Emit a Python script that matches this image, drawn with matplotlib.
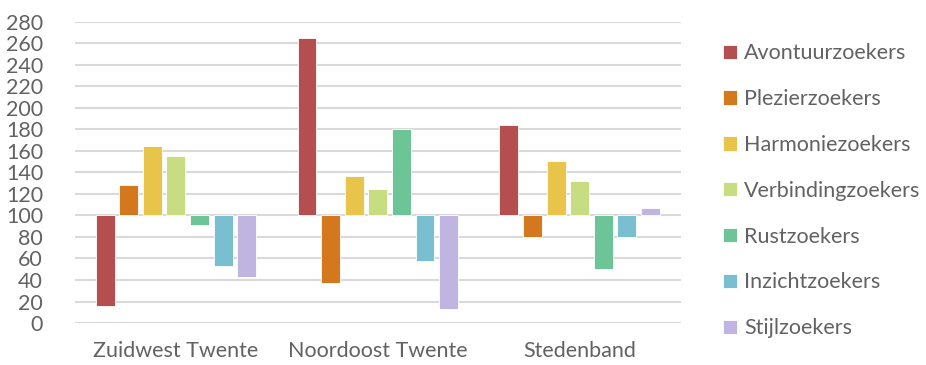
import matplotlib
matplotlib.use("Agg")
import matplotlib.pyplot as plt
import numpy as np

regions = ["Zuidwest Twente", "Noordoost Twente", "Stedenband"]
segments = ["Avontuurzoekers", "Plezierzoekers", "Harmoniezoekers",
            "Verbindingzoekers", "Rustzoekers", "Inzichtzoekers", "Stijlzoekers"]
colors = ["#b54e4f", "#d4781e", "#e8c44a", "#c8dc82", "#6cc497", "#79bfd0", "#c0b4e0"]

avontuur = [16, 265, 184]
plezier = [128, 37, 80]
harmonie = [165, 137, 151]
verbinding = [155, 125, 132]
rust = [91, 180, 50]
inzicht = [53, 58, 80]
stijl = [43, 13, 107]
series = [avontuur, plezier, harmonie, verbinding, rust, inzicht, stijl]

yticks = list(range(0, 281, 20))
baseline = 100

plt.rcParams["font.family"] = ["Lato", "DejaVu Sans"]
text_color = "#626262"
fs = 15.5

fig = plt.figure(figsize=(9.26, 3.65), dpi=100)
ax = fig.add_axes([0.081, 0.115, 0.654, 0.825])

x = np.arange(len(regions))
n = len(series)
slot = 0.117
width = slot * 0.8
for i, (vals, name, c) in enumerate(zip(series, segments, colors)):
    offs = (i - (n - 1) / 2) * slot
    heights = [v - baseline for v in vals]
    ax.bar(x + offs, heights, width=width, bottom=baseline, color=c,
           edgecolor="white", linewidth=0.6, label=name, zorder=3)

ax.set_ylim(0, 280)
ax.set_xlim(-0.5, 2.5)
ax.set_yticks(yticks)
ax.set_yticklabels([str(t) for t in yticks])
ax.set_xticks(x)
ax.set_xticklabels(regions)
ax.grid(axis="y", color="#d9d9d9", linewidth=1.5, zorder=0)
for s in ax.spines.values():
    s.set_visible(False)
ax.tick_params(axis="both", length=0, colors=text_color, labelsize=fs)
ax.tick_params(axis="x", pad=13)
ax.tick_params(axis="y", pad=23)

leg = fig.legend(loc="upper left", bbox_to_anchor=(0.772, 0.905), frameon=False,
                 fontsize=fs, labelspacing=1.2, handlelength=0.65,
                 handleheight=0.65, handletextpad=0.3, borderaxespad=0)
for t in leg.get_texts():
    t.set_color(text_color)

fig.savefig("out.png", dpi=100)
